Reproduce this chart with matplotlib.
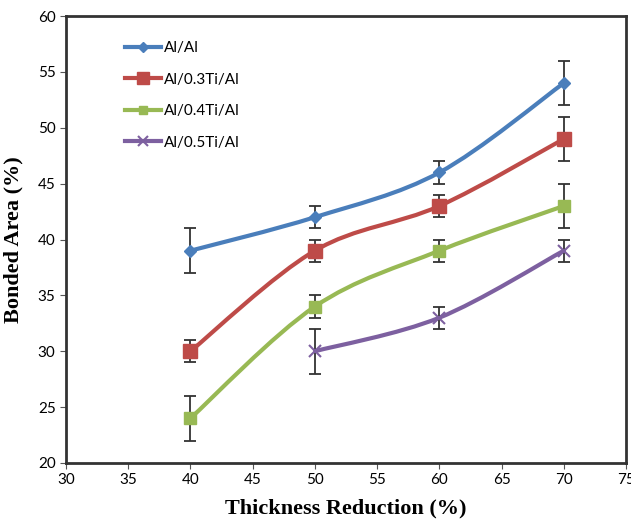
import numpy as np
import matplotlib
matplotlib.use('Agg')
import matplotlib.pyplot as plt
from matplotlib.path import Path
from matplotlib.patches import PathPatch
from matplotlib.lines import Line2D

plt.rcParams['font.family'] = ['Lato', 'DejaVu Sans']

# data
x_all = [40, 50, 60, 70]
al_al = [39, 42, 46, 54]
al_al_err = [2, 1, 1, 2]
al_03 = [30, 39, 43, 49]
al_03_err = [1, 1, 1, 2]
al_04 = [24, 34, 39, 43]
al_04_err = [2, 1, 1, 2]
x_05 = [50, 60, 70]
al_05 = [30, 33, 39]
al_05_err = [2, 1, 1]

labels = ['Al/Al', 'Al/0.3Ti/Al', 'Al/0.4Ti/Al', 'Al/0.5Ti/Al']
colors = ['#4A7EBB', '#BE4B48', '#98B954', '#7D60A0']
markers = ['D', 's', 's', 'x']
msizes = [6, 10, 8, 9]


def smooth_path(xs, ys):
    # excel style smoothed line: bezier segments through the points
    p = np.column_stack([xs, ys]).astype(float)
    n = len(p)
    verts = [p[0]]
    codes = [Path.MOVETO]
    for i in range(n - 1):
        p0 = p[i - 1] if i > 0 else p[i]
        p3 = p[i + 2] if i + 2 < n else p[i + 1]
        c1 = p[i] + (p[i + 1] - p0) / 6.0
        c2 = p[i + 1] - (p3 - p[i]) / 6.0
        verts += [c1, c2, p[i + 1]]
        codes += [Path.CURVE4] * 3
    return Path(verts, codes)


fig = plt.figure(figsize=(6.31, 5.19), dpi=100)
ax = fig.add_axes([0.1046, 0.108, 0.8874, 0.861])

series = [(x_all, al_al, al_al_err), (x_all, al_03, al_03_err),
          (x_all, al_04, al_04_err), (x_05, al_05, al_05_err)]

handles = []
for (xs, ys, err), lab, c, m, ms in zip(series, labels, colors, markers, msizes):
    ax.add_patch(PathPatch(smooth_path(xs, ys), facecolor='none', edgecolor=c,
                           lw=3, zorder=2))
    ax.errorbar(xs, ys, yerr=err, fmt='none', ecolor='#333333', elinewidth=1.3,
                capsize=4, capthick=1.3, zorder=3)
    if m == 'x':
        ax.plot(xs, ys, ls='none', marker=m, color=c, ms=ms, mew=1.5, zorder=4)
    else:
        ax.plot(xs, ys, ls='none', marker=m, color=c, ms=ms, zorder=4)
    handles.append(Line2D([], [], color=c, lw=3, marker=m, ms=ms * 0.8,
                          mew=1.5 if m == 'x' else 1))

ax.set_xlim(30, 75)
ax.set_ylim(20, 60)
ax.set_xticks(np.arange(30, 76, 5))
ax.set_yticks(np.arange(20, 61, 5))
ax.tick_params(labelsize=11, direction='out', length=4, color='#555555')
for s in ax.spines.values():
    s.set_linewidth(2)
    s.set_color('#333333')

ax.set_xlabel('Thickness Reduction (%)', family='Liberation Serif',
              fontweight='bold', fontsize=16, labelpad=8)
ax.set_ylabel('Bonded Area (%)', family='Liberation Serif',
              fontweight='bold', fontsize=16, labelpad=10)

ax.legend(handles, labels, loc='upper left', bbox_to_anchor=(0.08, 0.975),
          frameon=False, fontsize=11, handlelength=2.4, labelspacing=1.15,
          handletextpad=0.2)

fig.savefig('out.png', dpi=100)
